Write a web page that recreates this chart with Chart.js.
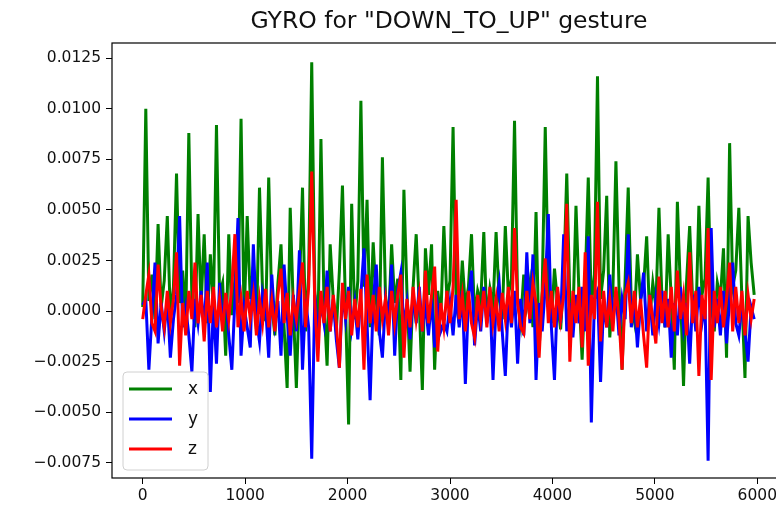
<!DOCTYPE html>
<html>
<head>
<meta charset="utf-8">
<script src="https://cdn.jsdelivr.net/npm/chart.js@4.4.1/dist/chart.umd.min.js"></script>
<style>
  html, body { margin: 0; padding: 0; background: #fff; overflow: hidden; }
  #wrap { width: 800px; height: 515px; }
</style>
</head>
<body>
<div id="wrap"><canvas id="grafico" width="800" height="515"></canvas></div>
<script>
const titulo = 'GYRO for "DOWN_TO_UP" gesture';
const sampleStep = 30; // one value read every 30 samples
const xTicks = [0, 1000, 2000, 3000, 4000, 5000, 6000];
const yTicks = [-0.0075, -0.005, -0.0025, 0, 0.0025, 0.005, 0.0075, 0.01, 0.0125];
const seriesNames = ['x', 'y', 'z'];
const seriesColors = ['green', 'blue', 'red'];

const gyroX = [
  0.0002, 0.0100, 0.0005, 0.0018, -0.0004, 0.0043, 0.0002, 0.0015, 0.0047, -0.0003,
  0.0012, 0.0068, 0.0004, 0.0020, -0.0005, 0.0088, 0.0006, -0.0008, 0.0048, 0.0003,
  0.0038, -0.0006, 0.0028, 0.0002, 0.0092, 0.0008, 0.0014, -0.0022, 0.0038, -0.0002,
  0.0016, 0.0004, 0.0095, -0.0004, 0.0047, 0.0006, 0.0022, -0.0009, 0.0061, 0.0010,
  -0.0005, 0.0066, 0.0003, -0.0012, 0.0014, 0.0033, -0.0008, -0.0038, 0.0051, 0.0002,
  -0.0038, 0.0012, 0.0061, -0.0010, 0.0018, 0.0123, 0.0010, -0.0012, 0.0085, 0.0004,
  -0.0027, 0.0033, 0.0006, -0.0010, 0.0020, 0.0062, 0.0002, -0.0056, 0.0053, -0.0004,
  0.0015, 0.0104, 0.0012, 0.0055, -0.0008, 0.0034, 0.0005, -0.0012, 0.0076, 0.0008,
  -0.0006, 0.0033, 0.0004, 0.0016, -0.0034, 0.0060, 0.0009, -0.0030, 0.0012, 0.0038,
  0.0003, -0.0039, 0.0031, 0.0008, 0.0033, -0.0029, 0.0010, -0.0004, 0.0042, 0.0006,
  0.0015, 0.0091, 0.0004, -0.0006, 0.0025, 0.0002, 0.0012, 0.0038, -0.0003, 0.0010,
  0.0004, 0.0039, -0.0005, 0.0011, 0.0002, 0.0039, 0.0006, -0.0004, 0.0042, 0.0008,
  0.0016, 0.0094, 0.0005, -0.0006, 0.0018, 0.0003, 0.0014, -0.0008, 0.0049, -0.0019,
  0.0010, 0.0091, 0.0012, -0.0006, 0.0021, 0.0004, -0.0009, 0.0016, 0.0068, 0.0006,
  -0.0004, 0.0052, 0.0008, -0.0024, 0.0014, 0.0066, 0.0003, 0.0018, 0.0116, 0.0006,
  0.0020, 0.0057, -0.0013, 0.0010, 0.0074, 0.0012, -0.0029, 0.0016, 0.0061, 0.0004,
  -0.0005, 0.0028, 0.0006, 0.0012, 0.0037, -0.0004, 0.0014, 0.0002, 0.0051, 0.0005,
  -0.0008, 0.0038, 0.0006, -0.0029, 0.0054, 0.0010, -0.0037, 0.0015, 0.0042, 0.0004,
  -0.0006, 0.0052, 0.0008, 0.0016, 0.0066, 0.0003, -0.0010, 0.0014, 0.0006, 0.0031,
  -0.0023, 0.0083, 0.0012, 0.0020, 0.0051, 0.0006, -0.0033, 0.0047, 0.0024, 0.0008
];

const gyroY = [
  0.0003, 0.0006, -0.0029, -0.0002, 0.0024, -0.0016, 0.0004, -0.0010, 0.0006, -0.0023,
  -0.0004, 0.0008, 0.0047, -0.0008, 0.0002, -0.0012, -0.0030, 0.0006, -0.0006, 0.0010,
  -0.0010, 0.0024, -0.0040, 0.0004, -0.0026, 0.0014, -0.0006, 0.0008, -0.0012, -0.0029,
  0.0006, 0.0046, -0.0022, 0.0002, -0.0008, -0.0018, 0.0033, -0.0004, -0.0015, 0.0009,
  0.0002, -0.0023, 0.0018, -0.0006, 0.0005, -0.0022, 0.0023, -0.0002, -0.0022, 0.0008,
  -0.0010, 0.0030, -0.0029, 0.0006, -0.0008, -0.0073, 0.0008, -0.0012, 0.0004, -0.0006,
  0.0020, -0.0010, 0.0006, -0.0014, -0.0028, 0.0010, -0.0004, 0.0012, -0.0008, 0.0004,
  -0.0014, 0.0008, 0.0031, -0.0006, -0.0044, 0.0005, 0.0023, -0.0010, -0.0023, 0.0006,
  -0.0004, 0.0023, -0.0022, 0.0010, 0.0019, -0.0008, 0.0004, -0.0014, 0.0008, -0.0006,
  0.0012, -0.0010, 0.0004, -0.0012, 0.0006, -0.0018, 0.0002, -0.0010, -0.0006, -0.0010,
  0.0004, -0.0012, 0.0008, -0.0008, 0.0010, -0.0036, 0.0006, 0.0020, -0.0017, 0.0004,
  -0.0010, 0.0012, -0.0006, 0.0008, -0.0034, 0.0004, 0.0014, -0.0010, -0.0032, 0.0006,
  -0.0008, 0.0010, -0.0026, 0.0006, -0.0012, 0.0029, -0.0006, 0.0028, -0.0034, 0.0004,
  -0.0010, 0.0012, 0.0048, -0.0008, -0.0034, 0.0010, -0.0006, 0.0038, -0.0010, 0.0004,
  -0.0013, 0.0008, -0.0006, 0.0012, -0.0010, 0.0037, -0.0055, 0.0006, 0.0010, -0.0035,
  0.0004, -0.0008, 0.0018, -0.0006, 0.0010, -0.0012, 0.0006, -0.0004, 0.0038, -0.0008,
  0.0006, -0.0018, 0.0004, 0.0019, -0.0010, 0.0008, -0.0012, 0.0006, -0.0006, 0.0010,
  -0.0008, 0.0006, -0.0023, 0.0004, -0.0012, 0.0012, -0.0008, 0.0004, -0.0026, 0.0008,
  -0.0010, 0.0012, -0.0006, 0.0004, -0.0074, 0.0041, -0.0008, 0.0006, -0.0012, 0.0010,
  -0.0016, 0.0006, 0.0024, -0.0006, -0.0012, 0.0004, -0.0010, -0.0025, 0.0002, -0.0004
];

const gyroZ = [
  -0.0004, 0.0008, 0.0018, -0.0006, -0.0010, 0.0023, 0.0002, -0.0008, 0.0010, -0.0006,
  0.0006, 0.0029, -0.0027, 0.0004, -0.0012, 0.0010, -0.0004, 0.0024, -0.0006, 0.0008,
  -0.0015, 0.0010, -0.0006, 0.0012, -0.0008, 0.0006, -0.0010, 0.0009, -0.0004, 0.0012,
  0.0038, -0.0008, 0.0006, -0.0010, 0.0010, -0.0004, 0.0008, -0.0012, 0.0006, -0.0006,
  0.0011, -0.0008, 0.0005, -0.0010, 0.0008, 0.0021, -0.0006, 0.0009, -0.0012, 0.0006,
  -0.0004, 0.0010, 0.0024, -0.0008, 0.0012, 0.0069, 0.0004, -0.0025, 0.0010, -0.0006,
  0.0012, -0.0010, 0.0008, -0.0006, -0.0028, 0.0014, -0.0004, 0.0010, -0.0012, 0.0006,
  -0.0008, 0.0011, -0.0029, 0.0018, -0.0006, 0.0008, -0.0010, 0.0012, -0.0004, 0.0006,
  -0.0012, 0.0010, -0.0006, 0.0008, 0.0018, -0.0023, 0.0006, -0.0008, 0.0012, -0.0004,
  0.0008, -0.0010, 0.0020, -0.0006, 0.0008, 0.0022, -0.0020, 0.0004, -0.0008, 0.0010,
  -0.0006, 0.0012, 0.0055, -0.0004, 0.0008, -0.0010, 0.0010, -0.0006, -0.0013, 0.0008,
  -0.0004, 0.0010, -0.0008, 0.0012, -0.0006, 0.0006, -0.0010, 0.0009, -0.0004, 0.0012,
  -0.0006, 0.0041, 0.0004, -0.0008, -0.0011, 0.0010, -0.0004, 0.0014, 0.0004, -0.0023,
  0.0008, 0.0026, -0.0006, 0.0010, -0.0008, 0.0012, -0.0004, 0.0008, 0.0053, -0.0025,
  0.0010, -0.0006, 0.0012, -0.0018, 0.0029, -0.0027, 0.0008, -0.0004, 0.0054, -0.0015,
  0.0010, -0.0008, 0.0006, -0.0010, 0.0012, -0.0004, -0.0029, 0.0008, 0.0014, -0.0006,
  0.0010, -0.0008, 0.0006, -0.0012, -0.0028, 0.0008, -0.0004, -0.0016, 0.0017, -0.0006,
  0.0010, -0.0008, 0.0012, -0.0010, 0.0020, -0.0004, 0.0008, -0.0012, 0.0029, -0.0006,
  0.0010, -0.0032, 0.0008, -0.0004, 0.0041, -0.0034, 0.0010, -0.0006, 0.0012, -0.0008,
  0.0006, 0.0024, -0.0010, 0.0012, -0.0006, 0.0010, -0.0012, 0.0008, -0.0004, 0.0006
];

document.addEventListener('DOMContentLoaded', () => {
    const ctx = document.getElementById('grafico').getContext('2d');
    const samples = gyroX.map((_, i) => i * sampleStep);
    const valores = [gyroX, gyroY, gyroZ];

    // matplotlib draws z last (on top); Chart.js draws dataset 0 on top
    const datasets = [2, 1, 0].map(k => ({
        label: seriesNames[k],
        data: samples.map((s, i) => ({ x: s, y: valores[k][i] })),
        borderColor: seriesColors[k],
        backgroundColor: seriesColors[k],
        borderWidth: 3,
        pointRadius: 0,
        tension: 0,
        fill: false
    }));

    const moldura = {
        id: 'moldura',
        afterDraw(chart) {
            const c = chart.ctx;
            const a = chart.chartArea;
            c.save();
            c.strokeStyle = '#000';
            c.lineWidth = 1.2;
            c.strokeRect(a.left, a.top, a.right - a.left, a.bottom - a.top);

            c.fillStyle = '#111';
            c.font = '23.5px "DejaVu Sans"';
            c.textAlign = 'center';
            c.textBaseline = 'middle';
            c.fillText(titulo, (a.left + a.right) / 2 - 1, 22);

            // legend box, lower left inside the axes
            const bx = a.left + 11, by = a.bottom - 106, bw = 85, bh = 98, r = 4;
            c.beginPath();
            c.moveTo(bx + r, by);
            c.arcTo(bx + bw, by, bx + bw, by + bh, r);
            c.arcTo(bx + bw, by + bh, bx, by + bh, r);
            c.arcTo(bx, by + bh, bx, by, r);
            c.arcTo(bx, by, bx + bw, by, r);
            c.closePath();
            c.fillStyle = 'rgba(255,255,255,0.8)';
            c.fill();
            c.strokeStyle = '#d0d0d0';
            c.lineWidth = 1;
            c.stroke();

            c.font = '17px "DejaVu Sans"';
            c.textAlign = 'left';
            seriesNames.forEach((nome, k) => {
                const ly = by + 17 + k * 30;
                c.strokeStyle = seriesColors[k];
                c.lineWidth = 3;
                c.beginPath();
                c.moveTo(bx + 6, ly);
                c.lineTo(bx + 49, ly);
                c.stroke();
                c.fillStyle = '#111';
                c.fillText(nome, bx + 65, ly + 1);
            });
            c.restore();
        }
    };

    const fonteTicks = { family: 'DejaVu Sans', size: 15.5 };

    new Chart(ctx, {
        type: 'line',
        data: { datasets: datasets },
        options: {
            responsive: false,
            animation: false,
            devicePixelRatio: 1,
            layout: { padding: { top: 43, right: 12, bottom: 0, left: 0 } },
            plugins: {
                legend: { display: false },
                title: { display: false },
                tooltip: { enabled: false }
            },
            scales: {
                x: {
                    type: 'linear',
                    min: -300,
                    max: 6300,
                    afterBuildTicks: scale => { scale.ticks = xTicks.map(v => ({ value: v })); },
                    afterFit: scale => { scale.height = 37; },
                    grid: { display: true, drawOnChartArea: false, tickLength: 6, tickColor: '#000' },
                    border: { display: false },
                    ticks: { font: fonteTicks, color: '#111', padding: 3, maxRotation: 0,
                        callback: v => String(v) }
                },
                y: {
                    type: 'linear',
                    min: -0.00825,
                    max: 0.01325,
                    afterBuildTicks: scale => { scale.ticks = yTicks.map(v => ({ value: v })); },
                    afterFit: scale => { scale.width = 112; },
                    grid: { display: true, drawOnChartArea: false, tickLength: 6, tickColor: '#000' },
                    border: { display: false },
                    ticks: { font: fonteTicks, color: '#111', padding: 5,
                        callback: v => v.toFixed(4).replace('-', '\u2212') }
                }
            }
        },
        plugins: [moldura]
    });
});
</script>
</body>
</html>
